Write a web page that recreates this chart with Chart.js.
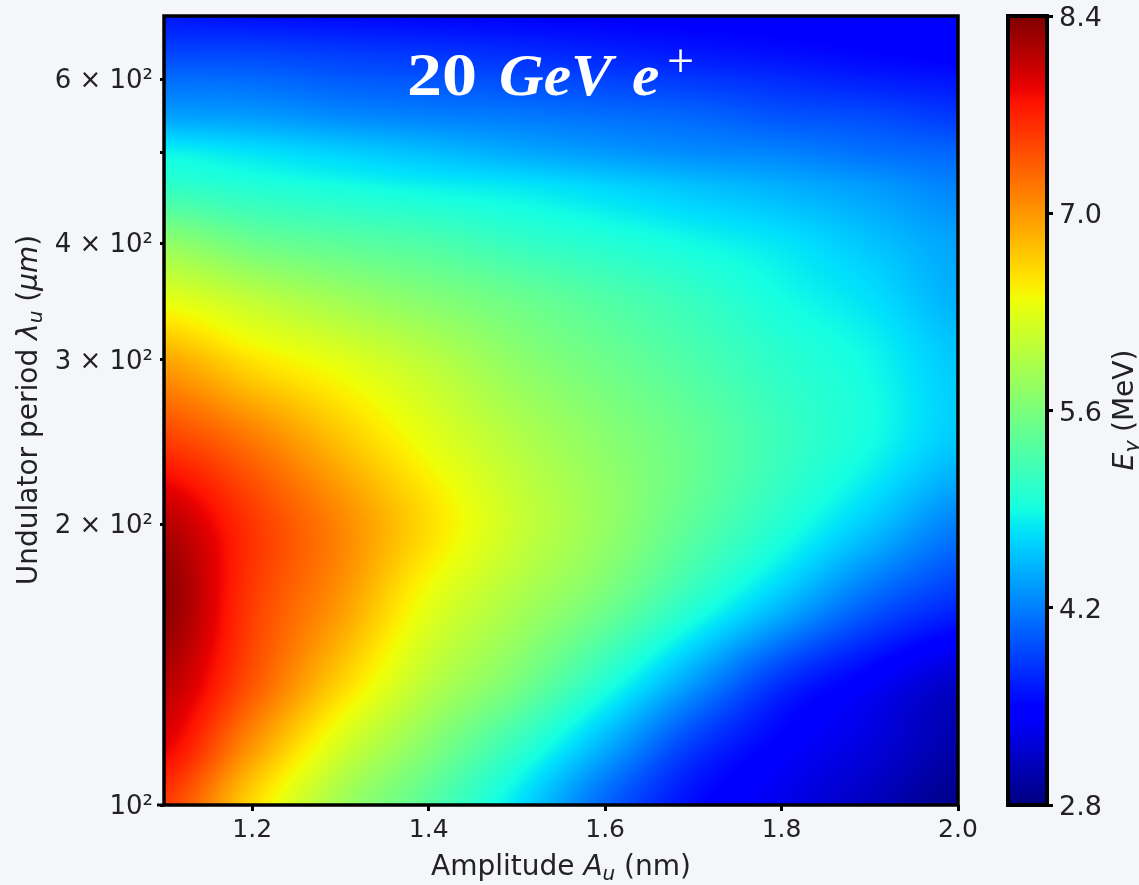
<!DOCTYPE html>
<html><head><meta charset="utf-8">
<script src="https://cdn.jsdelivr.net/npm/chart.js@4"></script>
<style>
html,body{margin:0;padding:0;background:#f4f6f9;width:1139px;height:885px;overflow:hidden}
canvas{position:absolute;top:0}
#main{left:0}#bar{left:1000px}
</style></head><body>
<canvas id="main" width="985" height="885"></canvas>
<canvas id="bar" width="139" height="885"></canvas>
<script>
const amplitudes=[1.1,1.2,1.3,1.4,1.5,1.6,1.7,1.8,1.9,2.0];
const periods=[100,115,135,165,200,245,300,350,400,460,500,545,600,645,701];
const row100=[7.55,6.60,5.85,5.35,4.75,4.05,3.55,3.32,3.10,2.85];
const row115=[7.90,7.00,6.20,5.65,5.10,4.45,3.80,3.45,3.25,3.00];
const row135=[8.15,7.40,6.65,6.02,5.58,5.00,4.35,3.75,3.42,3.15];
const row165=[8.35,7.55,7.00,6.33,5.92,5.55,5.05,4.55,4.05,3.75];
const row200=[8.15,7.58,7.10,6.58,6.12,5.77,5.38,5.00,4.60,4.20];
const row245=[7.55,7.20,6.75,6.33,5.98,5.70,5.45,5.15,4.90,4.60];
const row300=[6.92,6.55,6.30,6.03,5.72,5.50,5.28,5.05,4.87,4.60];
const row350=[6.30,6.05,5.83,5.65,5.48,5.30,5.12,4.90,4.73,4.47];
const row400=[5.75,5.50,5.38,5.28,5.12,5.00,4.88,4.76,4.58,4.40];
const row460=[5.10,5.00,4.92,4.84,4.78,4.68,4.57,4.47,4.36,4.22];
const row500=[4.85,4.75,4.65,4.55,4.44,4.35,4.27,4.22,4.12,4.06];
const row545=[4.40,4.37,4.28,4.22,4.18,4.12,4.07,3.97,3.92,3.82];
const row600=[4.10,4.08,4.00,3.96,3.91,3.86,3.80,3.73,3.65,3.60];
const row645=[3.85,3.85,3.80,3.76,3.71,3.66,3.60,3.55,3.50,3.45];
const row701=[3.62,3.58,3.55,3.52,3.50,3.48,3.46,3.45,3.45,3.45];
const energyGrid=[row100,row115,row135,row165,row200,row245,row300,row350,row400,row460,row500,row545,row600,row645,row701];
const xTicks=[1.2,1.4,1.6,1.8,2.0];
const xTickLabels=["1.2","1.4","1.6","1.8","2.0"];
const yTicks=[100,200,300,400,500,600];
const yTickLabels=["10²","2 × 10²","3 × 10²","4 × 10²","","6 × 10²"];
const barTicks=[2.8,4.2,5.6,7.0,8.4];
const barTickLabels=["2.8","4.2","5.6","7.0","8.4"];
const energyRange=[2.8,8.4];

const INK='#222222', FS=25, TS=28, SANS='"DejaVu Sans"';
function seg(t,pts){
  for(let i=0;i<pts.length-1;i++){
    if(t<=pts[i+1][0]){const a=pts[i],b=pts[i+1];return a[1]+(b[1]-a[1])*(t-a[0])/(b[0]-a[0]);}
  }
  return pts[pts.length-1][1];
}
const JR=[[0,0],[.35,0],[.66,1],[.89,1],[1,.5]];
const JG=[[0,0],[.125,0],[.375,1],[.64,1],[.91,0],[1,0]];
const JB=[[0,.5],[.11,1],[.34,1],[.65,0],[1,0]];
function jet(t){
  t=Math.max(0,Math.min(1,t));
  return [seg(t,JR)*255,seg(t,JG)*255,seg(t,JB)*255];
}
function jetVal(v){return jet((v-energyRange[0])/(energyRange[1]-energyRange[0]));}
function cr(a,b,c,d,t){return b+0.5*t*(c-a+t*(2*a-5*b+4*c-d+t*(3*(b-c)+d-a)));}
function frac(arr,v){
  let i=0;while(i<arr.length-2&&v>arr[i+1])i++;
  return [i,(v-arr[i])/(arr[i+1]-arr[i])];
}
const logP=periods.map(Math.log10);
function sample(x,y){
  const [ci,cf]=frac(amplitudes,x),[ri,rf]=frac(logP,Math.log10(y));
  const g=(r,c)=>energyGrid[Math.max(0,Math.min(energyGrid.length-1,r))][Math.max(0,Math.min(amplitudes.length-1,c))];
  const rowv=[];
  for(let r=-1;r<=2;r++)rowv.push(cr(g(ri+r,ci-1),g(ri+r,ci),g(ri+r,ci+1),g(ri+r,ci+2),cf));
  return cr(rowv[0],rowv[1],rowv[2],rowv[3],rf);
}
function drawRuns(ctx,runs,cx,cy,rot){
  ctx.save();ctx.translate(cx,cy);ctx.rotate(rot);ctx.textBaseline='alphabetic';ctx.textAlign='left';ctx.fillStyle=INK;
  let w=0;const fnt=r=>`${r.it?'italic ':''}${r.size}px ${SANS}`;
  runs.forEach(r=>{ctx.font=fnt(r);w+=ctx.measureText(r.t).width;});
  let p=-w/2;
  runs.forEach(r=>{ctx.font=fnt(r);ctx.fillText(r.t,p,r.dy||0);p+=ctx.measureText(r.t).width;});
  ctx.restore();
}
function stretched(ctx,font,text,x,y,sx){
  ctx.save();ctx.font=font;ctx.translate(x,y);ctx.scale(sx,1);ctx.fillText(text,0,0);ctx.restore();
}
const heat={id:'heat',beforeDatasetsDraw(c){
  const a=c.chartArea,xs=c.scales.x,ys=c.scales.y,ctx=c.ctx;
  const W=Math.round(a.right-a.left),H=Math.round(a.bottom-a.top);
  const img=ctx.createImageData(W,H);
  for(let j=0;j<H;j++){const yv=ys.getValueForPixel(a.top+j+0.5);
    for(let i=0;i<W;i++){const xv=xs.getValueForPixel(a.left+i+0.5);
      const col=jetVal(sample(xv,yv)),k=4*(j*W+i);
      img.data[k]=col[0];img.data[k+1]=col[1];img.data[k+2]=col[2];img.data[k+3]=255;}}
  ctx.putImageData(img,Math.round(a.left),Math.round(a.top));
},afterDraw(c){
  const a=c.chartArea,ctx=c.ctx,ys=c.scales.y;
  ctx.save();ctx.strokeStyle='#000';ctx.lineWidth=3.5;ctx.strokeRect(a.left,a.top,a.right-a.left,a.bottom-a.top);
  ctx.lineWidth=3;ctx.beginPath();const p=ys.getPixelForValue(100);ctx.moveTo(a.left-7,p);ctx.lineTo(a.left,p);ctx.stroke();
  ctx.fillStyle='#fff';ctx.textBaseline='alphabetic';ctx.textAlign='left';
  const by=a.top+79;
  stretched(ctx,'bold 62px "Liberation Serif"','20',a.left+243,by,1.13);
  stretched(ctx,'italic bold 60px "Liberation Serif"','GeV',a.left+335,by,1.03);
  stretched(ctx,'italic bold 60px "Liberation Serif"','e',a.left+468,by,1.03);
  ctx.font='48px "Liberation Serif"';ctx.fillText('+',a.left+503,by-18);
  ctx.restore();
  drawRuns(ctx,[{t:'Amplitude ',size:TS},{t:'A',it:1,size:TS},{t:'u',it:1,size:20,dy:5},{t:' (nm)',size:TS}],561,875,0);
  drawRuns(ctx,[{t:'Undulator period ',size:TS},{t:'λ',it:1,size:TS},{t:'u',it:1,size:20,dy:5},{t:' (',size:TS},{t:'μm',it:1,size:TS},{t:')',size:TS}],37,410,-Math.PI/2);
}};
const gridNodes=[];
periods.forEach((p,r)=>amplitudes.forEach((x,i)=>gridNodes.push({x,y:p,v:energyGrid[r][i]})));
new Chart(document.getElementById('main'),{
  type:'scatter',
  data:{datasets:[{label:'Eγ (MeV)',data:gridNodes,pointRadius:0,pointHoverRadius:0,showLine:false}]},
  plugins:[heat],
  options:{responsive:false,animation:false,devicePixelRatio:1,
    layout:{padding:{top:16,right:27,left:0,bottom:0}},
    plugins:{legend:{display:false},tooltip:{enabled:false},title:{display:false}},
    scales:{
      x:{type:'linear',min:1.1,max:2.0,
        afterBuildTicks:s=>{s.ticks=xTicks.map(v=>({value:v}));},
        afterFit:s=>{s.height=80;s.paddingLeft=0;s.paddingRight=0;},
        border:{display:false},
        grid:{drawOnChartArea:false,drawTicks:true,tickLength:6,tickWidth:3,tickColor:'#000'},
        ticks:{font:{family:SANS,size:FS},color:INK,maxRotation:0,autoSkip:false,padding:4,callback:(v,i)=>xTickLabels[i]}},
      y:{type:'logarithmic',min:100,max:701,
        afterBuildTicks:s=>{s.ticks=yTicks.map(v=>({value:v}));},
        afterFit:s=>{s.width=164;s.paddingTop=0;s.paddingBottom=0;},
        border:{display:false},
        grid:{drawOnChartArea:false,drawTicks:true,tickLength:4,tickWidth:3,tickColor:'#000'},
        ticks:{font:{family:SANS,size:26,lineHeight:'4px'},color:INK,autoSkip:false,padding:7,callback:(v,i)=>['',yTickLabels[i]]}}
    }}
});
const barDeco={id:'barDeco',afterDraw(c){
  const a=c.chartArea,ctx=c.ctx;
  ctx.save();ctx.strokeStyle='#000';ctx.lineWidth=4;ctx.strokeRect(a.left,a.top,a.right-a.left,a.bottom-a.top);ctx.restore();
  drawRuns(ctx,[{t:'E',it:1,size:TS},{t:'γ',it:1,size:20,dy:5},{t:' (MeV)',size:TS}],133,410,-Math.PI/2);
}};
function barFill(ctx){
  const c=ctx.chart,a=c.chartArea;if(!a)return '#000';
  const ys=c.scales.y,g=c.ctx.createLinearGradient(0,ys.getPixelForValue(energyRange[0]),0,ys.getPixelForValue(energyRange[1]));
  for(let i=0;i<=64;i++){const col=jet(i/64);g.addColorStop(i/64,`rgb(${col[0]|0},${col[1]|0},${col[2]|0})`);}
  return g;
}
new Chart(document.getElementById('bar'),{
  type:'bar',
  data:{labels:['Eγ'],datasets:[{label:'Eγ (MeV)',data:[energyRange],backgroundColor:barFill,borderWidth:0,barPercentage:1,categoryPercentage:1}]},
  plugins:[barDeco],
  options:{responsive:false,animation:false,devicePixelRatio:1,
    layout:{padding:{top:16,left:8,right:0,bottom:80}},
    plugins:{legend:{display:false},tooltip:{enabled:false}},
    scales:{
      x:{display:false},
      y:{position:'right',min:energyRange[0],max:energyRange[1],
        afterBuildTicks:s=>{s.ticks=barTicks.map(v=>({value:v}));},
        afterFit:s=>{s.width=92;s.paddingTop=0;s.paddingBottom=0;},
        border:{display:false},
        grid:{drawOnChartArea:false,drawTicks:true,tickLength:6,tickWidth:3,tickColor:'#000'},
        ticks:{font:{family:SANS,size:27,lineHeight:'6px'},color:INK,autoSkip:false,padding:6,callback:(v,i)=>['',barTickLabels[i]]}}
    }}
});
</script></body></html>
